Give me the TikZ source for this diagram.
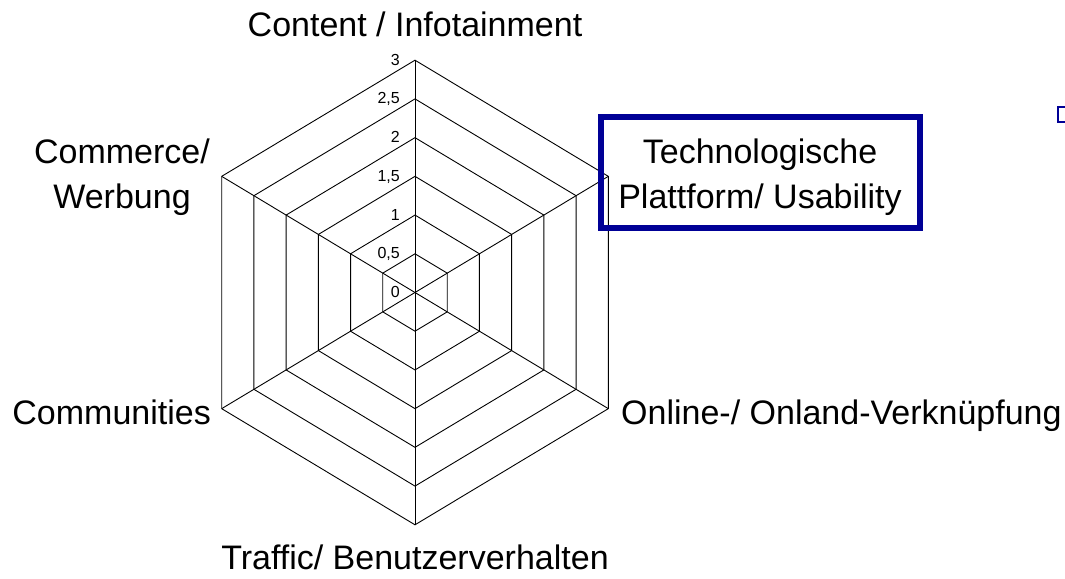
\documentclass[tikz,border=0pt]{standalone}
\usepackage{fontspec}
\setmainfont{Liberation Sans}
\definecolor{framenavy}{RGB}{0,0,150}
\begin{document}
\begin{tikzpicture}[x=1pt,y=-1pt,
  gridline/.style={black, line width=0.9pt, line join=miter},
  axislabel/.style={font=\fontsize{34}{45}\selectfont, inner sep=0pt, align=center},
  ticklabel/.style={font=\fontsize{16}{18}\selectfont, inner sep=0pt, anchor=base east},
  framebox/.style={draw=framenavy, line width=6pt}]
\useasboundingbox (0,0) rectangle (1065,578);

% centre of the radar chart and the outer radius (height / half width)
\def\cx{415}\def\cy{292.5}\def\R{232.3}\def\W{193.3}
\coordinate (c) at (\cx,\cy);

% rings 0,5 ... 3
\foreach \k in {1,...,6}{
  \pgfmathsetmacro\r{\R*\k/6}
  \pgfmathsetmacro\w{\W*\k/6}
  \draw[gridline] (\cx,\cy-\r) -- (\cx+\w,\cy-\r/2) -- (\cx+\w,\cy+\r/2)
     -- (\cx,\cy+\r) -- (\cx-\w,\cy+\r/2) -- (\cx-\w,\cy-\r/2) -- cycle;
}

% outer vertices and spokes
\coordinate (v1) at (\cx,\cy-\R);
\coordinate (v2) at (\cx+\W,\cy-\R/2);
\coordinate (v3) at (\cx+\W,\cy+\R/2);
\coordinate (v4) at (\cx,\cy+\R);
\coordinate (v5) at (\cx-\W,\cy+\R/2);
\coordinate (v6) at (\cx-\W,\cy-\R/2);
\foreach \v in {v1,v2,v3,v4,v5,v6}
  \draw[gridline] (c) -- (\v);

% scale values
\node[ticklabel] (t0) at (400,\cy+4.5) {0};
\node[ticklabel] (t1) at (400,\cy-\R*1/6+5) {0,5};
\node[ticklabel] (t2) at (400,\cy-\R*2/6+5) {1};
\node[ticklabel] (t3) at (400,\cy-\R*3/6+5) {1,5};
\node[ticklabel] (t4) at (400,\cy-\R*4/6+5) {2};
\node[ticklabel] (t5) at (400,\cy-\R*5/6+5) {2,5};
\node[ticklabel] (t6) at (400,\cy-\R+5) {3};

% axis titles
\node[axislabel, anchor=base] (content) at (415,37) {Content / Infotainment};
\node[axislabel, anchor=base east] (communities) at (211,424.5) {Communities};
\node[axislabel, anchor=base west] (online) at (621,424.5) {Online-/ Onland-Verkn\"upfung};
\node[axislabel, anchor=base] (traffic) at (415,569) {Traffic/ Benutzerverhalten};
\node[axislabel] (commerce) at (122,177) {Commerce/\\Werbung};

% highlighted axis title
\draw[framebox] (600.5,116.5) rectangle (920.3,227.5);
\node[axislabel] (tech) at (760,177) {Technologische\\Plattform/ Usability};

% legend marker at the right edge
\begin{scope}
  \clip (0,0) rectangle (1065,578);
  \draw[draw=framenavy, line width=2.2pt, fill=white] (1058,107) rectangle (1072,122);
\end{scope}
\end{tikzpicture}
\end{document}
